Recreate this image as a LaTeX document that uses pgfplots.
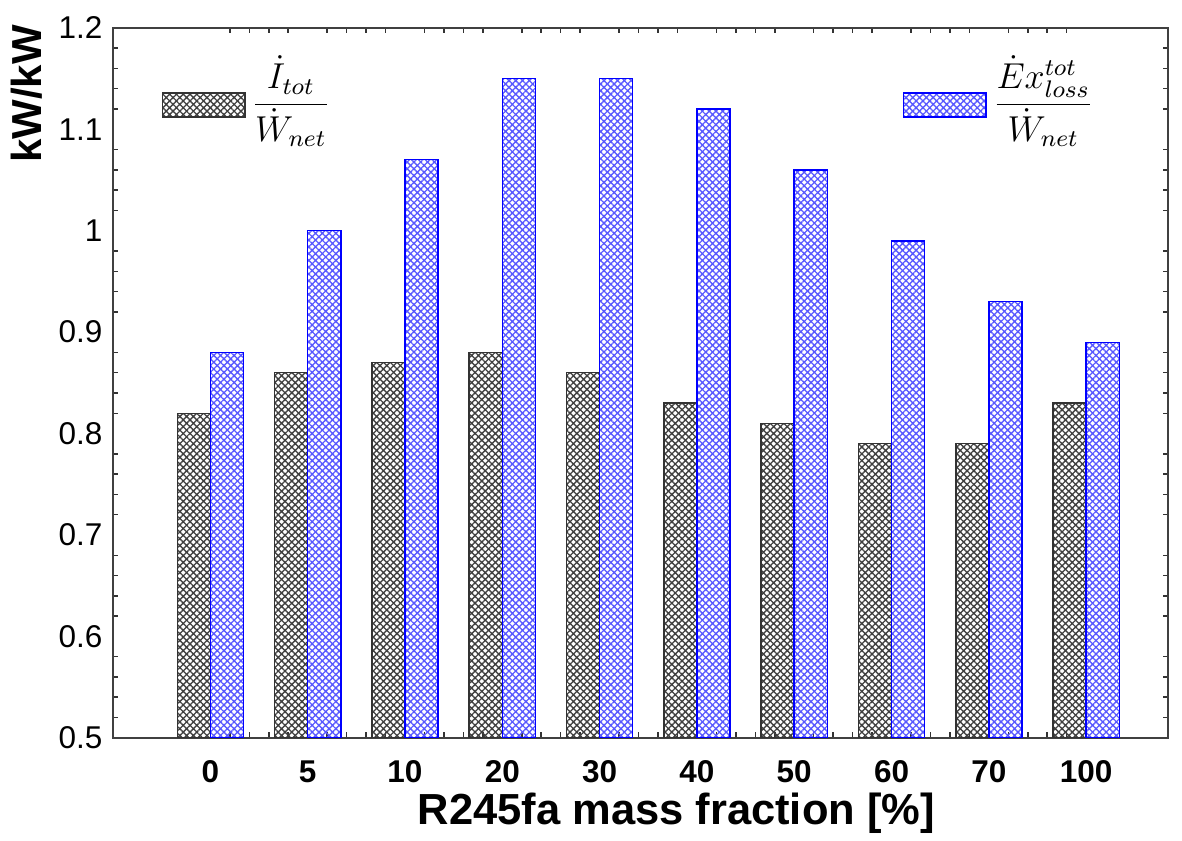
\documentclass[border=0pt]{standalone}
\usepackage{pgfplots}
\pgfplotsset{compat=1.18}
\usepackage{fontspec}
\setmainfont{Liberation Sans}
\usetikzlibrary{patterns.meta}
\pgfplotsset{mylegend/.style={legend image code/.code={\draw[##1] (0pt,-10pt) rectangle (27.5pt,-2pt);}}}

\begin{document}
\begin{tikzpicture}
\begin{axis}[
 scale only axis, width=351.7pt, height=236.7pt,
 xmin=-1, xmax=9.84, ymin=0.5, ymax=1.2,
 ybar=0pt, bar width=0.34,
 xtick={0,...,9}, xticklabels={0,5,10,20,30,40,50,60,70,100},
 minor x tick num=4,
 ytick={0.5,0.6,0.7,0.8,0.9,1.0,1.1,1.2}, yticklabels={0.5,0.6,0.7,0.8,0.9,1,1.1,1.2},
 minor y tick num=4,
 major tick length=0pt, minor tick length=1.8pt,
 tick align=inside,
 tick style={line width=0.5pt, black!80},
 axis line style={line width=0.7pt, black!75},
 x tick label style={font=\fontsize{10.5}{12}\selectfont\bfseries, yshift=-4pt},
 y tick label style={font=\fontsize{10.5}{12}\selectfont},
 xlabel={R245fa mass fraction [\%]},
 xlabel style={font=\fontsize{14.5}{16}\selectfont\bfseries, at={(axis description cs:0.534,-0.106)}, anchor=center},
 ylabel={kW/kW},
 ylabel style={font=\fontsize{14}{16}\selectfont\bfseries, at={(axis description cs:-0.0816,0.907)}, anchor=center},
 legend columns=2,
 legend style={at={(axis description cs:0.0455,0.917)}, anchor=west, draw=none, fill=none, inner sep=0pt,
   /tikz/every even column/.append style={column sep=189pt}, font=\fontsize{12}{14}\selectfont},
]
\addplot[draw=black!80, line width=0.5pt, pattern={Hatch[angle=45,distance=1.6pt,line width=0.45pt]}, pattern color=black!75, mylegend]
 coordinates {(0,0.82) (1,0.86) (2,0.87) (3,0.88) (4,0.86) (5,0.83) (6,0.81) (7,0.79) (8,0.79) (9,0.83)};
\addlegendentry{$\displaystyle\frac{\dot{I}_{tot}}{\dot{W}_{net}}$}
\addplot[draw=blue, line width=0.5pt, pattern={Hatch[angle=45,distance=1.6pt,line width=0.45pt]}, pattern color=blue!65, mylegend]
 coordinates {(0,0.88) (1,1.0) (2,1.07) (3,1.15) (4,1.15) (5,1.12) (6,1.06) (7,0.99) (8,0.93) (9,0.89)};
\addlegendentry{$\displaystyle\frac{\dot{E}x^{tot}_{loss}}{\dot{W}_{net}}$}
\end{axis}
\pgfresetboundingbox
\path[use as bounding box] ([shift={(-37.7pt,-34.3pt)}]current axis.south west) rectangle ([shift={(4.7pt,9.3pt)}]current axis.north east);
\end{tikzpicture}
\end{document}
